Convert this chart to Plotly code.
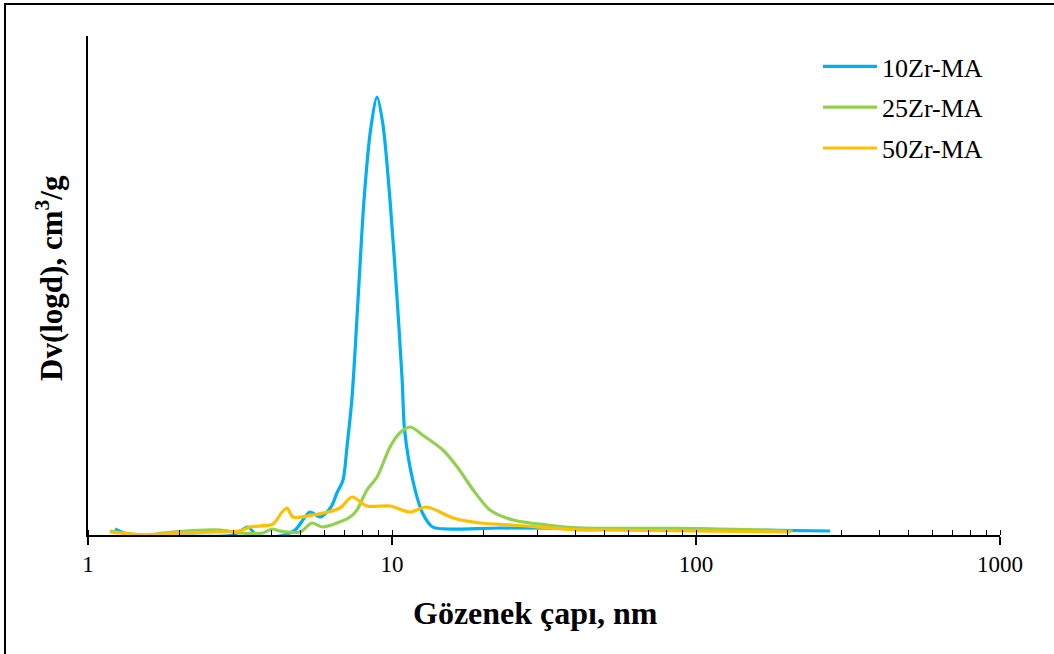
import plotly.graph_objects as go

# 10Zr-MA
x_10 = [1.227, 1.406, 2.0, 3.0, 3.36, 3.60, 4.28, 4.8, 5.37, 5.8, 6.3, 6.59, 6.9, 7.11, 7.39, 7.73, 8.09, 8.5, 8.93, 9.34, 9.85, 10.4, 10.8, 11.0, 11.7, 12.6, 13.6, 15.2, 22.7, 48.0, 103.0, 276.0]
y_10 = [0.012, -0.002, -0.002, 0.0, 0.016, -0.002, -0.002, 0.010, 0.046, 0.036, 0.056, 0.084, 0.110, 0.176, 0.276, 0.470, 0.670, 0.810, 0.876, 0.820, 0.670, 0.470, 0.310, 0.210, 0.110, 0.044, 0.016, 0.012, 0.014, 0.013, 0.011, 0.008]

# 25Zr-MA
x_25 = [1.18, 1.56, 1.76, 2.72, 3.16, 3.76, 4.03, 4.28, 4.98, 5.45, 5.93, 7.28, 7.67, 8.27, 8.93, 9.85, 10.6, 11.5, 12.6, 14.7, 16.4, 18.5, 21.0, 25.0, 32.3, 41.5, 103.0, 208.0]
y_25 = [0.008, 0.0, 0.004, 0.010, 0.004, 0.004, 0.012, 0.008, 0.006, 0.024, 0.016, 0.036, 0.050, 0.090, 0.116, 0.176, 0.204, 0.216, 0.200, 0.170, 0.136, 0.090, 0.050, 0.030, 0.020, 0.014, 0.013, 0.008]

# 50Zr-MA
x_50 = [1.18, 1.56, 2.01, 2.58, 3.16, 3.41, 4.06, 4.35, 4.52, 4.72, 5.50, 6.74, 7.39, 8.27, 9.85, 11.5, 13.0, 15.9, 19.5, 25.0, 41.5, 48.3, 204.0]
y_50 = [0.006, 0.0, 0.004, 0.006, 0.008, 0.016, 0.022, 0.046, 0.054, 0.036, 0.040, 0.054, 0.076, 0.058, 0.058, 0.046, 0.056, 0.034, 0.024, 0.020, 0.010, 0.010, 0.006]

series = [
    ("10Zr-MA", x_10, y_10, "#00B0F0"),
    ("25Zr-MA", x_25, y_25, "#92D050"),
    ("50Zr-MA", x_50, y_50, "#FFC000"),
]

x_ticks = [1, 10, 100, 1000]
x_tick_labels = ["1", "10", "100", "1000"]

FONT = "Liberation Serif, Times New Roman, serif"

fig = go.Figure()
for name, xs, ys, col in series:
    fig.add_trace(go.Scatter(
        x=xs, y=ys, name=name, mode="lines", legendgroup=name,
        line=dict(color=col, width=3.2, shape="spline", smoothing=0.8),
    ))

W, H = 1054, 654
L, R, T, B = 88, 54, 36, 119
pw, ph = W - L - R, H - T - B

def px(xp):
    return (xp - L) / pw

def py(yp):
    return (H - B - yp) / ph

fig.update_layout(
    width=W, height=H,
    margin=dict(l=L, r=R, t=T, b=B),
    paper_bgcolor="white", plot_bgcolor="white",
    font=dict(family=FONT, color="black", size=23),
    showlegend=True,
    legend=dict(
        x=px(818), y=py(43), xanchor="left", yanchor="top",
        font=dict(family=FONT, size=26, color="black"),
        bgcolor="rgba(0,0,0,0)", tracegroupgap=4, itemwidth=54,
    ),
    xaxis=dict(
        type="log", range=[0, 3],
        tickvals=x_ticks, ticktext=x_tick_labels,
        ticks="outside", ticklen=8, tickwidth=1.5, tickcolor="black",
        showline=True, linecolor="black", linewidth=1.5,
        showgrid=False, zeroline=False,
        tickfont=dict(family=FONT, size=23, color="black"),
        minor=dict(ticks="inside", ticklen=5, tickwidth=1.2, tickcolor="black", dtick="D1", showgrid=False),
    ),
    yaxis=dict(
        range=[0, ph / 500.0],
        showline=True, linecolor="black", linewidth=2,
        showticklabels=False, ticks="", showgrid=False, zeroline=False,
    ),
    annotations=[
        dict(text="<b>Gözenek çapı, nm</b>", xref="paper", yref="paper",
             x=px(535), y=py(613), xanchor="center", yanchor="middle",
             showarrow=False, font=dict(family=FONT, size=32, color="black")),
        dict(text="<b>Dv(logd), cm<sup>3</sup>/g</b>", xref="paper", yref="paper",
             x=px(49), y=py(278), xanchor="center", yanchor="middle", textangle=-90,
             showarrow=False, font=dict(family=FONT, size=31, color="black")),
    ],
    shapes=[
        dict(type="rect", xref="paper", yref="paper",
             x0=px(5), y0=py(680), x1=px(1080), y1=py(4),
             line=dict(color="black", width=2), fillcolor="rgba(0,0,0,0)", layer="below"),
    ],
)

fig.write_html("out.html")
